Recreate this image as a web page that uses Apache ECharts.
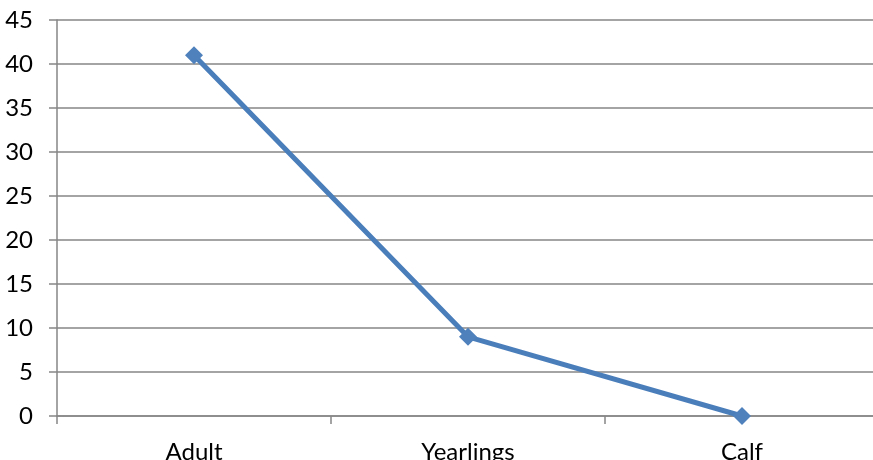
<!DOCTYPE html>
<html>
<head>
<meta charset="utf-8">
<script src="https://cdn.jsdelivr.net/npm/echarts@6/dist/echarts.min.js"></script>
<style>
  html, body { margin: 0; padding: 0; background: #ffffff; }
  #chart { width: 873px; height: 460px; }
</style>
</head>
<body>
<div id="chart"></div>
<script>
// Age classes and counts
const categories = ['Adult', 'Yearlings', 'Calf'];
const counts = [41, 9, 0];

// Value axis range
const yMin = 0;
const yMax = 45;
const yStep = 5;

const chart = echarts.init(document.getElementById('chart'), null, { renderer: 'canvas' });

const labelFont = {
  color: '#000000',
  fontFamily: 'Lato, "Open Sans", sans-serif',
  fontSize: 24
};

chart.setOption({
  animation: false,
  backgroundColor: '#ffffff',
  // plot area runs a few pixels past the right edge of the canvas
  grid: {
    left: 57, width: 822, top: 20, height: 396,
    containLabel: false,
    outerBoundsMode: 'none'
  },
  xAxis: {
    type: 'category',
    data: categories,
    boundaryGap: true,
    axisLine: { show: true, lineStyle: { color: '#868686', width: 1.5 } },
    axisTick: { show: true, length: 8, alignWithLabel: false, lineStyle: { color: '#868686', width: 1.5 } },
    axisLabel: Object.assign({ margin: 24 }, labelFont),
    splitLine: { show: false }
  },
  yAxis: {
    type: 'value',
    min: yMin,
    max: yMax,
    interval: yStep,
    axisLine: { show: true, lineStyle: { color: '#868686', width: 1.5 } },
    axisTick: { show: true, length: 8, lineStyle: { color: '#868686', width: 1.5 } },
    axisLabel: Object.assign({ margin: 24 }, labelFont),
    splitLine: { show: true, lineStyle: { color: '#868686', width: 1.5 } }
  },
  series: [{
    type: 'line',
    data: counts,
    symbol: 'diamond',
    symbolSize: 18,
    showSymbol: true,
    lineStyle: { color: '#4A7EBB', width: 5 },
    itemStyle: { color: '#4F81BD', borderWidth: 0 },
    emphasis: { disabled: true }
  }]
});
</script>
</body>
</html>
